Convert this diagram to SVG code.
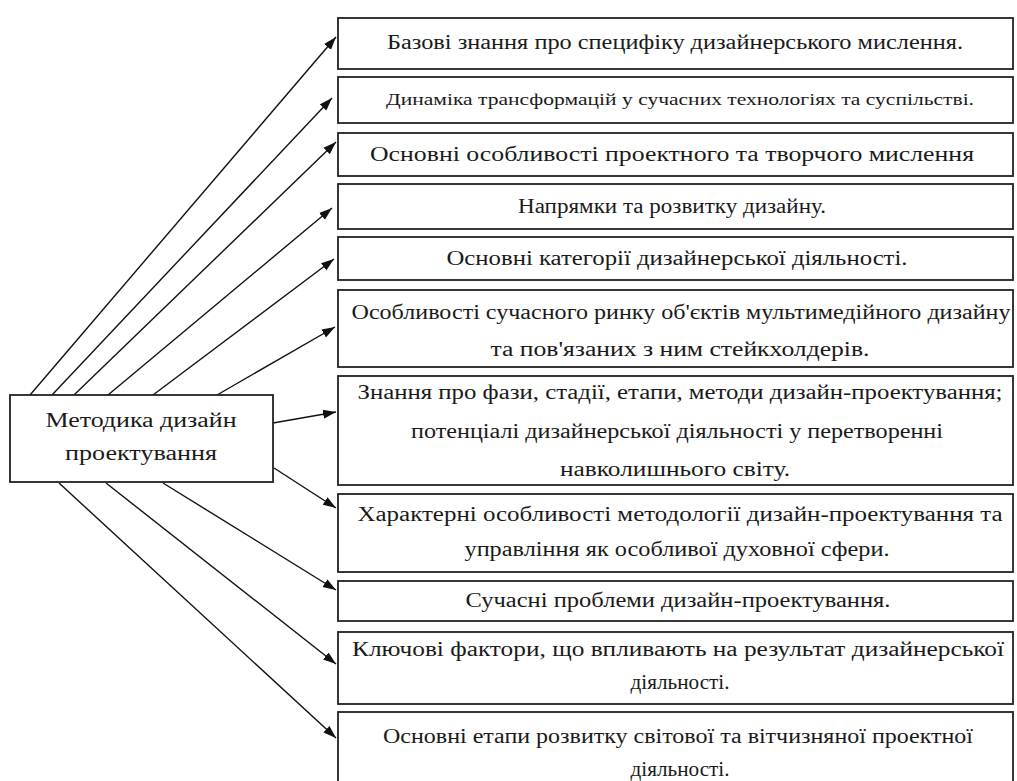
<svg xmlns="http://www.w3.org/2000/svg" width="1017" height="781" viewBox="0 0 1017 781">
<style>
.box{fill:#fff;stroke:#222;stroke-width:1.8}
.t{font-family:"Liberation Serif","Times New Roman",serif;font-size:20px;fill:#1a1a1a;text-anchor:middle}
.s{font-size:17px}
.c{stroke:#111;stroke-width:1.4;fill:none;marker-end:url(#ah)}
</style>
<defs>
<marker id="ah" markerUnits="userSpaceOnUse" markerWidth="14" markerHeight="10" refX="13" refY="5" orient="auto">
<path d="M0,0.5 L13,5 L0,9.5 z" fill="#111"/>
</marker>
</defs>
<rect width="1017" height="781" fill="#fff"/>
<g id="connectors">
<line class="c" x1="30" y1="395" x2="336" y2="37"/>
<line class="c" x1="52" y1="395" x2="332" y2="98"/>
<line class="c" x1="74" y1="395" x2="336" y2="142"/>
<line class="c" x1="108" y1="395" x2="332" y2="208"/>
<line class="c" x1="153" y1="395" x2="334" y2="259"/>
<line class="c" x1="217" y1="395" x2="335" y2="327"/>
<line class="c" x1="273" y1="423" x2="336" y2="412"/>
<line class="c" x1="274" y1="468" x2="336" y2="508"/>
<line class="c" x1="163" y1="483" x2="336" y2="590"/>
<line class="c" x1="106" y1="483" x2="336" y2="664"/>
<line class="c" x1="59" y1="483" x2="336" y2="738"/>
</g>
<g id="main">
<rect class="box" x="10" y="395" width="263" height="87"/>
<text class="t" x="141" y="427" textLength="191" lengthAdjust="spacingAndGlyphs">Методика дизайн</text>
<text class="t" x="141" y="460" textLength="152" lengthAdjust="spacingAndGlyphs">проектування</text>
</g>
<g id="n1">
<rect class="box" x="338" y="18" width="675" height="51"/>
<text class="t" x="675" y="49" textLength="576" lengthAdjust="spacingAndGlyphs">Базові знання про специфіку дизайнерського мислення.</text>
</g>
<g id="n2">
<rect class="box" x="338" y="77" width="675" height="46"/>
<text class="t s" x="680" y="105" textLength="588" lengthAdjust="spacingAndGlyphs">Динаміка трансформацій у сучасних технологіях та суспільстві.</text>
</g>
<g id="n3">
<rect class="box" x="338" y="133" width="675" height="43"/>
<text class="t" x="672" y="161" textLength="604" lengthAdjust="spacingAndGlyphs">Основні особливості проектного та творчого мислення</text>
</g>
<g id="n4">
<rect class="box" x="338" y="184" width="675" height="45"/>
<text class="t" x="672" y="213" textLength="308" lengthAdjust="spacingAndGlyphs">Напрямки та розвитку дизайну.</text>
</g>
<g id="n5">
<rect class="box" x="338" y="237" width="675" height="43"/>
<text class="t" x="677" y="265" textLength="461" lengthAdjust="spacingAndGlyphs">Основні категорії дизайнерської діяльності.</text>
</g>
<g id="n6">
<rect class="box" x="338" y="290" width="675" height="77"/>
<text class="t" x="681" y="319" textLength="659" lengthAdjust="spacingAndGlyphs">Особливості сучасного ринку об'єктів мультимедійного дизайну</text>
<text class="t" x="680" y="356" textLength="379" lengthAdjust="spacingAndGlyphs">та пов'язаних з ним стейкхолдерів.</text>
</g>
<g id="n7">
<rect class="box" x="338" y="376" width="675" height="109"/>
<text class="t" x="680" y="399" textLength="645" lengthAdjust="spacingAndGlyphs">Знання про фази, стадії, етапи, методи дизайн-проектування;</text>
<text class="t" x="677" y="438" textLength="532" lengthAdjust="spacingAndGlyphs">потенціалі дизайнерської діяльності у перетворенні</text>
<text class="t" x="675" y="476" textLength="230" lengthAdjust="spacingAndGlyphs">навколишнього світу.</text>
</g>
<g id="n8">
<rect class="box" x="338" y="494" width="675" height="78"/>
<text class="t" x="680" y="521" textLength="645" lengthAdjust="spacingAndGlyphs">Характерні особливості методології дизайн-проектування та</text>
<text class="t" x="677" y="556" textLength="425" lengthAdjust="spacingAndGlyphs">управління як особливої духовної сфери.</text>
</g>
<g id="n9">
<rect class="box" x="338" y="581" width="675" height="40"/>
<text class="t" x="678" y="607" textLength="425" lengthAdjust="spacingAndGlyphs">Сучасні проблеми дизайн-проектування.</text>
</g>
<g id="n10">
<rect class="box" x="338" y="632" width="675" height="72"/>
<text class="t" x="678" y="656" textLength="652" lengthAdjust="spacingAndGlyphs">Ключові фактори, що впливають на результат дизайнерської</text>
<text class="t" x="680" y="689" textLength="99" lengthAdjust="spacingAndGlyphs">діяльності.</text>
</g>
<g id="n11">
<rect class="box" x="338" y="712" width="675" height="80"/>
<text class="t" x="678" y="743" textLength="590" lengthAdjust="spacingAndGlyphs">Основні етапи розвитку світової та вітчизняної проектної</text>
<text class="t" x="680" y="776" textLength="99" lengthAdjust="spacingAndGlyphs">діяльності.</text>
</g>
</svg>
